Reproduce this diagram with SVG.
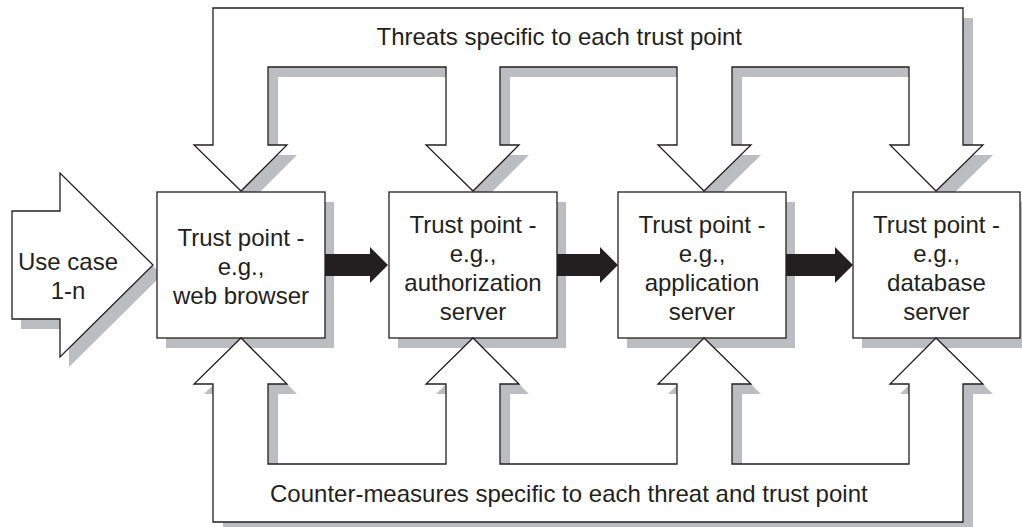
<svg xmlns="http://www.w3.org/2000/svg" width="1022" height="527" viewBox="0 0 1022 527">
<defs>
<style>
.shape{fill:#ffffff;stroke:#231f20;stroke-width:1.3;stroke-linejoin:miter}
.shadow{fill:#bcbdc1;stroke:none}
.lbl{font-family:"Liberation Sans",Arial,sans-serif;font-size:24px;fill:#231f20}
.mid{text-anchor:middle}
.flow{fill:#231f20;stroke:none}
</style>
<polygon id="topShape" points="213,8 963,8 963,145 983,145 936,191 890,145 909,145 909,67 732,67 732,145 751,145 704,191 658,145 677,145 677,67 500,67 500,145 519,145 473,191 426,145 446,145 446,67 268,67 268,145 287,145 241,191 194,145 213,145"/>
<polygon id="botShape" points="213,522 963,522 963,384 983,384 936,338 890,384 909,384 909,464 732,464 732,384 751,384 704,338 658,384 677,384 677,464 500,464 500,384 519,384 473,338 426,384 446,384 446,464 268,464 268,384 287,384 241,338 194,384 213,384"/>
<polygon id="useShape" points="12,211 60,211 60,173 153,265 60,357 60,319 12,319"/>
</defs>

<g id="threats">
<use href="#topShape" class="shadow" transform="translate(10,10)"/>
<use href="#topShape" class="shape"/>
<text class="lbl" x="376.5" y="45">Threats specific to each trust point</text>
</g>

<g id="use-case">
<use href="#useShape" class="shadow" transform="translate(9,10)"/>
<use href="#useShape" class="shape"/>
<text class="lbl mid" x="68" y="270">Use case</text>
<text class="lbl mid" x="68" y="299">1-n</text>
</g>

<g id="tp-web-browser">
<rect class="shadow" x="166" y="202" width="168" height="146"/>
<rect class="shape" x="157" y="192" width="168" height="146"/>
<text class="lbl mid" x="241" y="246">Trust point -</text>
<text class="lbl mid" x="241" y="275">e.g.,</text>
<text class="lbl mid" x="241" y="304">web browser</text>
</g>

<g id="tp-authorization-server">
<rect class="shadow" x="398" y="202" width="168" height="146"/>
<rect class="shape" x="389" y="192" width="168" height="146"/>
<text class="lbl mid" x="473" y="233">Trust point -</text>
<text class="lbl mid" x="473" y="262">e.g.,</text>
<text class="lbl mid" x="473" y="291">authorization</text>
<text class="lbl mid" x="473" y="320">server</text>
</g>

<g id="tp-application-server">
<rect class="shadow" x="627" y="202" width="168" height="146"/>
<rect class="shape" x="618" y="192" width="168" height="146"/>
<text class="lbl mid" x="702" y="233">Trust point -</text>
<text class="lbl mid" x="702" y="262">e.g.,</text>
<text class="lbl mid" x="702" y="291">application</text>
<text class="lbl mid" x="702" y="320">server</text>
</g>

<g id="tp-database-server">
<rect class="shadow" x="862" y="202" width="167" height="146"/>
<rect class="shape" x="853" y="192" width="167" height="146"/>
<text class="lbl mid" x="936.5" y="233">Trust point -</text>
<text class="lbl mid" x="936.5" y="262">e.g.,</text>
<text class="lbl mid" x="936.5" y="291">database</text>
<text class="lbl mid" x="936.5" y="320">server</text>
</g>

<g id="countermeasures">
<use href="#botShape" class="shadow" transform="translate(10,10)"/>
<use href="#botShape" class="shape"/>
<text class="lbl" x="270" y="502">Counter-measures specific to each threat and trust point</text>
</g>

<g id="connectors">
<polygon class="flow" points="325,254 370,254 370,247 388,265 370,283 370,276 325,276"/>
<polygon class="flow" points="557,254 600,254 600,247 618,265 600,283 600,276 557,276"/>
<polygon class="flow" points="786,254 835,254 835,247 853,265 835,283 835,276 786,276"/>
</g>
</svg>
